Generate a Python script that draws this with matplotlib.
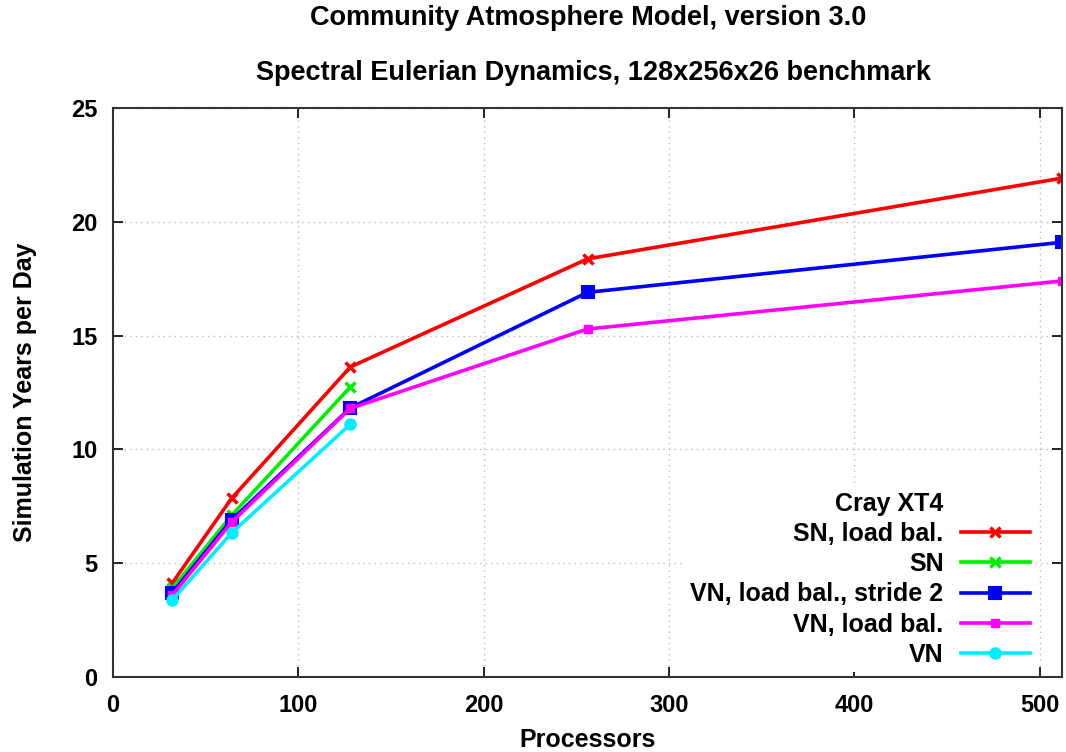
import matplotlib
matplotlib.use("Agg")
import matplotlib.pyplot as plt
from matplotlib.lines import Line2D

plt.rcParams['font.family'] = ['Liberation Sans', 'DejaVu Sans']
plt.rcParams['font.weight'] = 'bold'

procs_full = [32, 64, 128, 256, 512]
procs_short = [32, 64, 128]
sn_lb = [4.13, 7.85, 13.62, 18.37, 21.92]
sn = [3.9, 7.1, 12.74]
vn_lb_s2 = [3.7, 6.9, 11.82, 16.9, 19.1]
vn_lb = [3.6, 6.8, 11.8, 15.29, 17.4]
vn = [3.38, 6.33, 11.1]

labels = ["SN, load bal.", "SN", "VN, load bal., stride 2", "VN, load bal.", "VN"]
legend_title = "Cray XT4"
xticks = [0, 100, 200, 300, 400, 500]
yticks = [0, 5, 10, 15, 20, 25]

fig = plt.figure(figsize=(10.66, 7.52), dpi=100)
ax = fig.add_axes([113/1066, 1 - 677/752, (1062-113)/1066, (677-108)/752])

lw = 2.6
ax.plot(procs_full, sn_lb, color='#ff0000', lw=lw, marker='x', ms=7, mew=2.5, label=labels[0])
ax.plot(procs_short, sn, color='#00ee00', lw=lw, marker='x', ms=7, mew=2.5, label=labels[1])
ax.plot(procs_full, vn_lb_s2, color='#0000ff', lw=lw, marker='s', ms=8, mew=1.5, label=labels[2])
ax.plot(procs_full, vn_lb, color='#ff00ff', lw=lw, marker='s', ms=6, label=labels[3])
ax.plot(procs_short, vn, color='#00eeff', lw=lw, marker='o', ms=8, label=labels[4])

ax.set_xlim(0, 512)
ax.set_ylim(0, 25)
ax.set_xticks(xticks)
ax.set_yticks(yticks)
ax.grid(True, color='#bbbbbb', linestyle=(0, (1, 3)), lw=1)
ax.tick_params(direction='in', top=True, right=True, length=7, width=1.2, labelsize=17)
ax.tick_params(axis='y', pad=11)
ax.tick_params(axis='x', pad=12)
for s in ax.spines.values():
    s.set_linewidth(1.5)
    s.set_color('#333333')
for t in ax.get_xticklabels() + ax.get_yticklabels():
    t.set_fontweight('bold')

ax.set_xlabel("Processors", fontsize=18, fontweight='bold', labelpad=8)
ax.set_ylabel("Simulation Years per Day", fontsize=18, fontweight='bold', labelpad=25)

fig.text(588/1066, 1 - 18/752, "Community Atmosphere Model, version 3.0", ha='center', va='center',
         fontsize=19.5, fontweight='bold')
fig.text(594/1066, 1 - 73/752, "Spectral Eulerian Dynamics, 128x256x26 benchmark", ha='center', va='center',
         fontsize=19.5, fontweight='bold')

handles, labs = ax.get_legend_handles_labels()
dummy = Line2D([], [], color='none')
leg = ax.legend([dummy] + handles, [legend_title] + labs, loc='lower right', markerfirst=False,
                frameon=True, fontsize=18, handlelength=2.75, borderaxespad=0.0, borderpad=0.2,
                labelspacing=0.25, handletextpad=0.7, bbox_to_anchor=(0.9713, 0.009))
leg.get_frame().set_edgecolor('none')
leg.get_frame().set_facecolor('white')
leg.get_frame().set_alpha(1)
for t in leg.get_texts():
    t.set_fontweight('bold')

fig.savefig("out.png", dpi=100)
